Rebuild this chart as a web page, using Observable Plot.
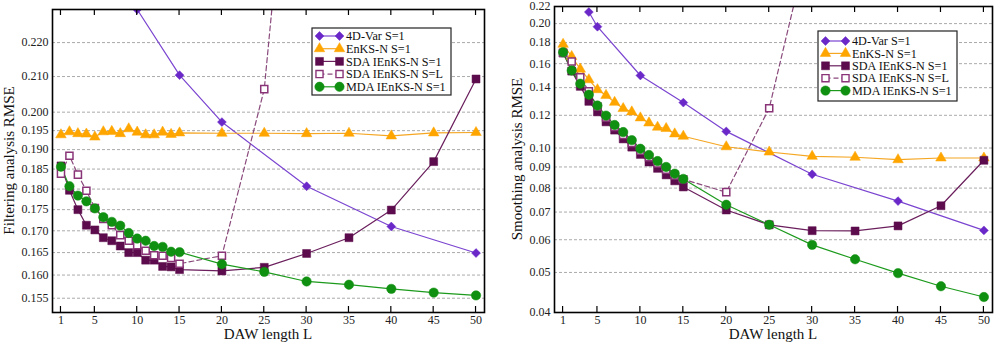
<!DOCTYPE html>
<html>
<head>
<meta charset="utf-8">
<script src="https://cdn.jsdelivr.net/npm/d3@7"></script>
<script src="https://cdn.jsdelivr.net/npm/@observablehq/plot@0.6"></script>
<style>
  html, body { margin: 0; padding: 0; background: #fff; }
  #wrap { position: relative; width: 1001px; height: 344px; overflow: hidden; }
  .panel { position: absolute; top: 0; }
</style>
</head>
<body>
<div id="wrap"><div id="left" class="panel" style="left:0px"></div><div id="right" class="panel" style="left:500px"></div></div>
<script>
// ---------- data ----------
const xTicks = [1, 5, 10, 15, 20, 25, 30, 35, 40, 45, 50];
const L = [1,2,3,4,5,6,7,8,9,10,11,12,13,14,15,20,25,30,35,40,45,50];
const L_sdaL = [1,2,3,4,5,6,7,8,9,10,11,12,13,14,15,20,25,30];

const seriesNames = ["4D-Var S=1", "EnKS-N S=1", "SDA IEnKS-N S=1", "SDA IEnKS-N S=L", "MDA IEnKS-N S=1"];

// Filtering analysis RMSE (left)
const filtTicks = [0.155,0.160,0.165,0.170,0.175,0.180,0.185,0.190,0.195,0.200,0.210,0.220];
const filtVarL = [10, 15, 20, 30, 40, 50];
const filtVar  = [0.2302, 0.2104, 0.1973, 0.1807, 0.1710, 0.1649];
const filtEnks = [0.1939,0.1947,0.1942,0.1941,0.1933,0.1947,0.1948,0.1942,0.1955,0.1946,0.1939,0.1939,0.1946,0.1940,0.1944,0.1943,0.1943,0.1942,0.1943,0.1936,0.1944,0.1945];
const filtSda  = [0.1858,0.1797,0.1750,0.1713,0.1702,0.1684,0.1677,0.1665,0.1650,0.1650,0.1633,0.1633,0.1619,0.1618,0.1612,0.1609,0.1617,0.1648,0.1684,0.1749,0.1869,0.2093];
const filtSdaL = [0.1838,0.1884,0.1836,0.1796,0.1754,0.1728,0.1713,0.1690,0.1677,0.1667,0.1654,0.1644,0.1643,0.1638,0.1625,0.1643,0.2064,0.38];
const filtMda  = [0.1856,0.1807,0.1784,0.1770,0.1753,0.1732,0.1721,0.1712,0.1695,0.1682,0.1677,0.1665,0.1663,0.1652,0.1651,0.1624,0.1607,0.1586,0.1579,0.1570,0.1562,0.1556];

// Smoothing analysis RMSE (right)
const smTicks = [0.04,0.05,0.06,0.07,0.08,0.09,0.10,0.12,0.14,0.16,0.18,0.20,0.22];
const smVarL = [4, 5, 10, 15, 20, 30, 40, 50];
const smVar  = [0.2133, 0.1966, 0.1498, 0.1288, 0.1097, 0.0864, 0.0744, 0.0632];
const smEnks = [0.1782,0.1665,0.1552,0.1463,0.1384,0.1341,0.1290,0.1246,0.1223,0.1183,0.1150,0.1123,0.1115,0.1082,0.1068,0.1007,0.0978,0.0955,0.0950,0.0937,0.0946,0.0946];
const smSda  = [0.1697,0.1535,0.1410,0.1297,0.1223,0.1157,0.1105,0.1052,0.1005,0.0965,0.0925,0.0893,0.0861,0.0833,0.0805,0.0708,0.0652,0.0631,0.0630,0.0648,0.0725,0.0934];
const smSdaL = [0.1700,0.1619,0.1482,0.1371,0.1260,0.1185,0.1125,0.1075,0.1028,0.0985,0.0950,0.0918,0.0886,0.0858,0.0840,0.0782,0.1248,0.34];
const smMda  = [0.1705,0.1540,0.1431,0.1346,0.1267,0.1198,0.1137,0.1093,0.1045,0.0996,0.0962,0.0930,0.0900,0.0867,0.0842,0.0729,0.0652,0.0583,0.0538,0.0498,0.0463,0.0436];

// ---------- styles ----------
const styles = [
  {name: seriesNames[0], symbol: "diamond2", r: 4.0, fill: "#6a28c8", stroke: "#6a28c8", line: "#7a44d0", dash: null},
  {name: seriesNames[1], symbol: "triangle", r: 3.9, fill: "#ffa500", stroke: "#ffa500", line: "#f5a623", dash: null},
  {name: seriesNames[2], symbol: "square",   r: 4.5, fill: "#5c0c4c", stroke: "#5c0c4c", line: "#6a1e5c", dash: null},
  {name: seriesNames[3], symbol: "square",   r: 4.0, fill: "white",   stroke: "#8a3478", line: "#8a4a7c", dash: "5,3"},
  {name: seriesNames[4], symbol: "circle",   r: 4.7, fill: "#109010", stroke: "#109010", line: "#1c9a1c", dash: null}
];
const symMap = {diamond2: d3.symbolDiamond2, triangle: d3.symbolTriangle, square: d3.symbolSquare, circle: d3.symbolCircle};
const ff = "'Liberation Serif', 'Times New Roman', serif";

function build(cfg) {
  const sets = [
    cfg.varL.map((l, i) => ({L: l, v: cfg.vVar[i]})),
    L.map((l, i) => ({L: l, v: cfg.vEnks[i]})),
    L.map((l, i) => ({L: l, v: cfg.vSda[i]})),
    L_sdaL.map((l, i) => ({L: l, v: cfg.vSdaL[i]})),
    L.map((l, i) => ({L: l, v: cfg.vMda[i]}))
  ];
  const marks = [
    Plot.gridY(cfg.ticks, {stroke: "#a0a0a0", strokeOpacity: 1, strokeWidth: 0.9, strokeDasharray: "3,2"}),
    Plot.axisY({ticks: cfg.ticks, tickSize: 0, tickPadding: 4, tickFormat: cfg.fmt, label: null, fontSize: 12}),
    Plot.axisX({ticks: xTicks, tickSize: 0, tickPadding: 3, tickFormat: d3.format("d"), label: null, fontSize: 12})
  ];
  sets.forEach((data, k) => {
    const s = styles[k];
    marks.push(Plot.line(data, {x: "L", y: "v", stroke: s.line, strokeWidth: 1.2, strokeDasharray: s.dash, clip: true}));
  });
  sets.forEach((data, k) => {
    const s = styles[k];
    marks.push(Plot.dot(data, {x: "L", y: "v", symbol: () => s.symbol, r: s.r, fill: s.fill, stroke: s.stroke, strokeWidth: k === 3 ? 1.5 : 0.5, clip: true}));
  });
  marks.push(Plot.frame({stroke: "#000", strokeWidth: 1.6}));

  const svg = Plot.plot({
    width: cfg.width, height: 344,
    marginLeft: cfg.ml, marginRight: cfg.mr, marginTop: cfg.mt, marginBottom: 32,
    style: {fontFamily: ff, fontSize: "12px", color: "#222", background: "white"},
    x: {domain: [0, 51]},
    y: {type: "log", domain: cfg.domain},
    symbol: {type: "identity"},
    marks
  });
  const sel = d3.select(svg);
  const xs = svg.scale("x");
  const bottom = 344 - 32;
  // inward ticks at bottom and top of the frame
  const tg = sel.append("g").attr("stroke", "#000").attr("stroke-width", 1.2);
  xTicks.forEach(t => {
    const px = xs.apply(t);
    tg.append("line").attr("x1", px).attr("x2", px).attr("y1", bottom).attr("y2", bottom - 6);
    tg.append("line").attr("x1", px).attr("x2", px).attr("y1", cfg.mt).attr("y2", cfg.mt + 6);
  });
  // axis titles
  sel.append("text").attr("x", cfg.ml + (cfg.width - cfg.ml - cfg.mr) / 2).attr("y", 339)
    .attr("text-anchor", "middle").attr("font-family", ff).attr("font-size", 15).attr("fill", "#111").text("DAW length L");
  sel.append("text").attr("transform", `translate(${cfg.ylx},${cfg.mt + (bottom - cfg.mt) / 2}) rotate(-90)`)
    .attr("text-anchor", "middle").attr("dominant-baseline", "central").attr("font-family", ff).attr("font-size", 15).attr("fill", "#111").text(cfg.ylabel);
  // legend
  const g = sel.append("g").attr("transform", `translate(${cfg.lx},${cfg.ly})`);
  g.append("rect").attr("x", 0).attr("y", 0).attr("width", 139).attr("height", cfg.lh)
    .attr("fill", "white").attr("stroke", "#222").attr("stroke-width", 1.2);
  styles.forEach((s, k) => {
    const yy = cfg.r0 + k * cfg.rs;
    g.append("line").attr("x1", 7.5).attr("x2", 27.5).attr("y1", yy).attr("y2", yy)
      .attr("stroke", s.line).attr("stroke-width", 1.2).attr("stroke-dasharray", s.dash);
    [7.5, 27.5].forEach(px => {
      g.append("path").attr("d", d3.symbol(symMap[s.symbol], Math.PI * s.r * s.r)())
        .attr("transform", `translate(${px},${yy})`).attr("fill", s.fill).attr("stroke", s.stroke)
        .attr("stroke-width", k === 3 ? 1.4 : 0.5);
    });
    g.append("text").attr("x", 34).attr("y", yy).attr("dy", "0.35em").attr("text-anchor", "start")
      .attr("font-family", ff).attr("font-size", 12.2).attr("fill", "#111").text(s.name);
  });
  return svg;
}

document.getElementById("left").appendChild(build({
  width: 500, ml: 52, mr: 16, mt: 9, domain: [0.152, 0.2302], ticks: filtTicks, fmt: d3.format(".3f"),
  varL: filtVarL, vVar: filtVar, vEnks: filtEnks, vSda: filtSda, vSdaL: filtSdaL, vMda: filtMda,
  ylabel: "Filtering analysis RMSE", ylx: 9, lx: 312, ly: 28, lh: 67, r0: 8, rs: 12.7
}));
document.getElementById("right").appendChild(build({
  width: 501, ml: 54, mr: 9, mt: 6, domain: [0.04, 0.22], ticks: smTicks, fmt: d3.format(".2f"),
  varL: smVarL, vVar: smVar, vEnks: smEnks, vSda: smSda, vSdaL: smSdaL, vMda: smMda,
  ylabel: "Smoothing analysis RMSE", ylx: 17, lx: 318, ly: 31, lh: 70, r0: 10, rs: 12.4
}));
</script>
</body>
</html>
